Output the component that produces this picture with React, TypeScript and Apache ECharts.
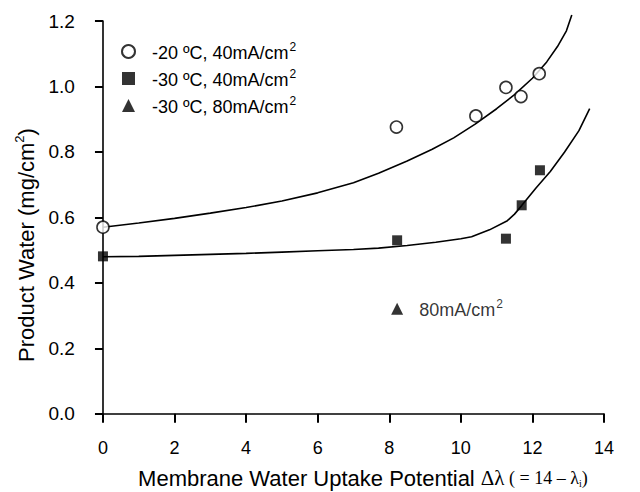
import React, { useEffect, useRef } from "react";
import * as echarts from "echarts";

// Measured product water vs. membrane water uptake potential
const xCold20A40 = [0, 8.2, 10.42, 11.26, 11.68, 12.19];
const yCold20A40 = [0.57, 0.876, 0.91, 0.997, 0.969, 1.039];

const xCold30A40 = [0, 8.22, 11.26, 11.7, 12.21];
const yCold30A40 = [0.481, 0.53, 0.535, 0.637, 0.744];

const xCold30A80 = [8.22];
const yCold30A80 = [0.321];

// Model curves
const xFitUpper = [0, 1, 2, 3, 4, 5, 6, 7, 7.7, 8.5, 9.2, 9.8, 10.4, 11.0, 11.5, 12.0, 12.4, 12.7, 12.95, 13.1];
const yFitUpper = [0.57, 0.583, 0.597, 0.613, 0.63, 0.65, 0.675, 0.706, 0.735, 0.772, 0.808, 0.843, 0.885, 0.932, 0.975, 1.025, 1.075, 1.122, 1.17, 1.218];

const xFitLower = [0, 1, 2, 3, 4, 5, 6, 7, 7.7, 8.5, 9.3, 10.0, 10.3, 10.8, 11.3, 11.5, 11.7, 12.1, 12.5, 12.9, 13.3, 13.6];
const yFitLower = [0.48, 0.481, 0.484, 0.487, 0.49, 0.494, 0.498, 0.502, 0.506, 0.514, 0.524, 0.535, 0.541, 0.562, 0.59, 0.61, 0.636, 0.69, 0.74, 0.8, 0.865, 0.932];

const seriesNames = ["-20 ºC, 40mA/cm2", "-30 ºC, 40mA/cm2", "-30 ºC, 80mA/cm2"];
const triangleNote = "80mA/cm2";

const xTicks = [0, 2, 4, 6, 8, 10, 12, 14];
const yTicks = [0, 0.2, 0.4, 0.6, 0.8, 1.0, 1.2];

const SANS = "Arial, 'Liberation Sans', Helvetica, sans-serif";
const SERIF = "'Liberation Serif', 'Times New Roman', serif";

const zip = (xs: number[], ys: number[]) => xs.map((x, i) => [x, ys[i]]);

// "…cm2" -> rich text with a raised 2
const withSup = (s: string, main: string, sup: string) =>
  `{${main}|${s.slice(0, -1)}}{${sup}|${s.slice(-1)}}`;

const noteRich = {
  t: { fontSize: 18, fontFamily: SANS, color: "#000", lineHeight: 21, verticalAlign: "bottom" },
  s: { fontSize: 12, fontFamily: SANS, color: "#000", lineHeight: 21, verticalAlign: "top", padding: [0, 0, 0, 1] },
};

export default function App() {
  const ref = useRef<HTMLDivElement>(null);

  useEffect(() => {
    if (!ref.current) return;
    const chart = echarts.init(ref.current, null, { renderer: "svg" });

    const axisLine = { show: true, lineStyle: { color: "#000", width: 1.6 } };

    chart.setOption({
      animation: false,
      backgroundColor: "#fff",
      grid: {
        left: 95.8,
        right: 36,
        top: 21,
        bottom: 71,
        containLabel: false,
        outerBoundsMode: "none",
      },
      legend: {
        orient: "vertical",
        left: 116,
        top: 36,
        itemWidth: 13,
        itemHeight: 13,
        itemGap: 6,
        data: [
          { name: seriesNames[0], icon: "circle" },
          { name: seriesNames[1], icon: "rect" },
          { name: seriesNames[2], icon: "triangle" },
        ],
        formatter: (name: string) => withSup(name, "t", "s"),
        textStyle: { padding: [0, 0, 0, 12], rich: noteRich },
      },
      xAxis: {
        type: "value",
        min: -0.2,
        max: 14,
        axisLine,
        splitLine: { show: false },
        axisTick: {
          show: true,
          customValues: xTicks,
          length: 9,
          lineStyle: { color: "#000", width: 2 },
        },
        axisLabel: {
          customValues: xTicks,
          fontSize: 18,
          fontFamily: SANS,
          color: "#000",
          margin: 18,
          formatter: (v: number) => String(v),
        },
        name: "{a|Membrane Water Uptake Potential }{g|Δλ}{p| ( = 14 – λ}{s|i}{p|)}",
        nameLocation: "middle",
        nameGap: 45,
        nameTextStyle: {
          padding: [0, 0, 0, 26],
          rich: {
            a: { fontSize: 22, fontFamily: SANS, color: "#000", lineHeight: 24, verticalAlign: "middle" },
            g: { fontSize: 21, fontFamily: SERIF, color: "#000", lineHeight: 24, verticalAlign: "middle" },
            p: { fontSize: 18, fontFamily: SERIF, color: "#000", lineHeight: 24, verticalAlign: "middle" },
            s: { fontSize: 10, fontFamily: SERIF, color: "#000", lineHeight: 24, verticalAlign: "bottom", padding: [0, 0, 2, 0] },
          },
        },
      },
      yAxis: {
        type: "value",
        min: -0.022,
        max: 1.2,
        axisLine,
        splitLine: { show: false },
        axisTick: {
          show: true,
          customValues: yTicks,
          length: 8,
          lineStyle: { color: "#000", width: 2 },
        },
        axisLabel: {
          customValues: yTicks,
          fontSize: 19,
          fontFamily: SANS,
          color: "#000",
          margin: 21,
          formatter: (v: number) => v.toFixed(1),
        },
        name: "{a|Product Water (mg/cm}{s|2}{a|)}",
        nameLocation: "middle",
        nameRotate: 90,
        nameGap: 53,
        nameTextStyle: {
          padding: [0, 48, 0, 0],
          rich: {
            a: { fontSize: 22, fontFamily: SANS, color: "#000", lineHeight: 24, verticalAlign: "bottom" },
            s: { fontSize: 13, fontFamily: SANS, color: "#000", lineHeight: 24, verticalAlign: "top" },
          },
        },
      },
      series: [
        {
          name: "fitUpper",
          type: "line",
          data: zip(xFitUpper, yFitUpper),
          showSymbol: false,
          clip: false,
          silent: true,
          lineStyle: { color: "#000", width: 1.6 },
          z: 1,
        },
        {
          name: "fitLower",
          type: "line",
          data: zip(xFitLower, yFitLower),
          showSymbol: false,
          clip: false,
          silent: true,
          lineStyle: { color: "#000", width: 1.6 },
          z: 1,
        },
        {
          name: seriesNames[0],
          type: "scatter",
          data: zip(xCold20A40, yCold20A40),
          symbol: "circle",
          symbolSize: 12,
          itemStyle: { color: "#fff", borderColor: "#000", borderWidth: 1.6 },
          z: 3,
        },
        {
          name: seriesNames[1],
          type: "scatter",
          data: zip(xCold30A40, yCold30A40),
          symbol: "rect",
          symbolSize: 10,
          itemStyle: { color: "#000" },
          z: 3,
        },
        {
          name: seriesNames[2],
          type: "scatter",
          data: zip(xCold30A80, yCold30A80),
          symbol: "triangle",
          symbolSize: 12,
          itemStyle: { color: "#000" },
          label: {
            show: true,
            position: "right",
            distance: 16,
            formatter: () => withSup(triangleNote, "t", "s"),
            rich: noteRich,
          },
          z: 3,
        },
      ],
    });

    return () => chart.dispose();
  }, []);

  return (
    <div
      ref={ref}
      style={{ position: "fixed", left: 0, top: 0, width: 640, height: 492 }}
    />
  );
}
